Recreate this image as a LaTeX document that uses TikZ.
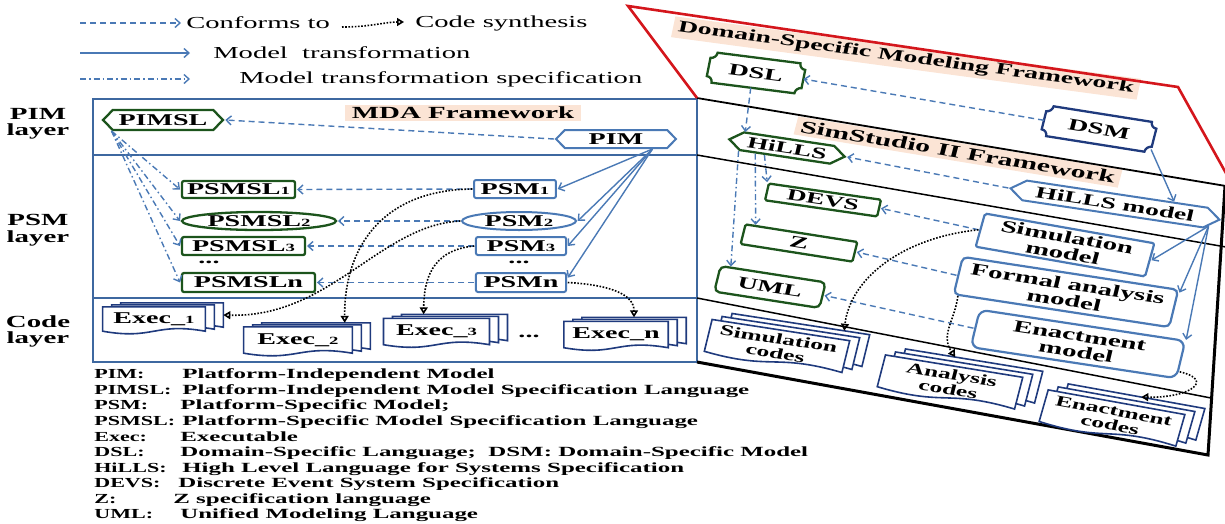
\documentclass[tikz,border=0pt]{standalone}
\usepackage{fontspec}
\setmainfont{Liberation Serif}
\usetikzlibrary{arrows.meta,shapes.symbols,shapes.geometric,calc}
\pgfdeclarelayer{bg}
\pgfsetlayers{bg,main}
\definecolor{lblue}{RGB}{74,121,181}
\definecolor{fblue}{RGB}{62,104,160}
\definecolor{dgreen}{RGB}{28,84,28}
\definecolor{navy}{RGB}{31,58,125}
\definecolor{peach}{RGB}{251,228,213}
\definecolor{fred}{RGB}{212,22,28}
\newcommand\smd[1]{{\fontsize{11}{11}\selectfont #1}}
\newcommand\docpath[1]{%
  \draw[docline] (#1.north west) -- (#1.north east) -- (#1.south east)
    .. controls ($(#1.south)!9pt!-90:(#1.south west)$) and ($(#1.south)!9pt!90:(#1.south west)$) .. (#1.south west) -- cycle;}
\newcommand\docstack[1]{\docpath{#1-b2}\docpath{#1-b1}\docpath{#1}}
\newcommand\ticket[2]{%
  \path ($(#1.north west)!6pt!(#1.north east)$) coordinate (#1-1)
        ($(#1.north east)!6pt!(#1.north west)$) coordinate (#1-2)
        ($(#1.north east)!6pt!(#1.south east)$) coordinate (#1-3)
        ($(#1.south east)!6pt!(#1.north east)$) coordinate (#1-4)
        ($(#1.south east)!6pt!(#1.south west)$) coordinate (#1-5)
        ($(#1.south west)!6pt!(#1.south east)$) coordinate (#1-6)
        ($(#1.south west)!6pt!(#1.north west)$) coordinate (#1-7)
        ($(#1.north west)!6pt!(#1.south west)$) coordinate (#1-8);
  \draw[#2] (#1-1) -- (#1-2)
    .. controls ($(#1-2)+0.55*(#1-3)-0.55*(#1.north east)$) and ($(#1-3)+0.55*(#1-2)-0.55*(#1.north east)$) .. (#1-3) -- (#1-4)
    .. controls ($(#1-4)+0.55*(#1-5)-0.55*(#1.south east)$) and ($(#1-5)+0.55*(#1-4)-0.55*(#1.south east)$) .. (#1-5) -- (#1-6)
    .. controls ($(#1-6)+0.55*(#1-7)-0.55*(#1.south west)$) and ($(#1-7)+0.55*(#1-6)-0.55*(#1.south west)$) .. (#1-7) -- (#1-8)
    .. controls ($(#1-8)+0.55*(#1-1)-0.55*(#1.north west)$) and ($(#1-1)+0.55*(#1-8)-0.55*(#1.north west)$) .. (#1-1) -- cycle;}
\tikzset{
  lt/.style={xscale=1.7, inner sep=0pt, font=\bfseries\fontsize{16.5}{16.5}\selectfont},
  ltr/.style={xscale=1.7, inner sep=0pt, font=\fontsize{16.8}{17}\selectfont},
  lgl/.style={xscale=1.6, inner sep=0pt, font=\bfseries\fontsize{13.8}{14}\selectfont},
  lgd/.style={xscale=1.78, inner sep=0pt, font=\bfseries\fontsize{14}{14}\selectfont},
  rt/.style={xscale=1.26, rotate=-#1, xscale=1.35, inner sep=0pt, font=\bfseries\fontsize{16.5}{16}\selectfont},
  rt/.default=11,
  gb/.style={draw=dgreen, line width=2.3pt},
  bb/.style={draw=lblue, line width=2pt},
  hex/.style={signal, signal to=west and east, signal pointer angle=#1},
  hex/.default=110,
  dotsn/.style={lt, text height=3pt, text depth=0pt},
  docline/.style={draw=navy, fill=white, line width=1.6pt},
  conf/.style={draw=lblue, line width=1.4pt, dash pattern=on 6pt off 4pt, -{Straight Barb[length=5pt,width=9pt]}},
  trans/.style={draw=lblue, line width=1.4pt, -{Straight Barb[length=5pt,width=9pt]}},
  spec/.style={draw=lblue, line width=1.4pt, dash pattern=on 6pt off 3pt on 1.5pt off 3pt, -{Straight Barb[length=5pt,width=9pt]}},
  synth/.style={draw=black, line width=1.6pt, dash pattern=on 1.6pt off 1.6pt, -{Triangle[open,length=7pt,width=8pt]}},
}
\begin{document}
\begin{tikzpicture}[x=1pt,y=-1pt]
\useasboundingbox (0,0) rectangle (1225,523);
% ---------------- background: labels and frames
\begin{pgfonlayer}{bg}
\node[lt, fill=peach, inner xsep=4pt, inner ysep=2.5pt, font=\bfseries\fontsize{17}{17}\selectfont] (mdalbl) at (463,113) {MDA Framework};
\node[rt=9.6, fill=peach, inner xsep=3pt, inner ysep=3pt, font=\bfseries\fontsize{16.3}{16}\selectfont] (dsmflbl) at (906,58) {Domain-Specific Modeling Framework};
\node[rt=11.7, fill=peach, inner xsep=3pt, inner ysep=3pt, font=\bfseries\fontsize{17.5}{17}\selectfont] (simlbl) at (958,152) {SimStudio II Framework};
\draw[fblue, line width=2.6pt] (93,99) rectangle (697,362);
\draw[fblue, line width=1.2pt] (93,155) -- (697,155) (93,298) -- (697,298);
\draw[line width=1.8pt] (697,98) -- (1226,186);
\draw[line width=1.5pt] (697,155) -- (1226,247);
\draw[line width=1.5pt] (697,298) -- (1211,398);
\draw[line width=3pt] (697,362) -- (1208,455) -- (1225,186);
\draw[fred, line width=2.6pt] (697,98) -- (628,6) -- (1178,87) -- (1232,184);
\end{pgfonlayer}
% ---------------- top legend
\coordinate (c1a) at (80,23); \coordinate (c1b) at (181,23);
\node[ltr, anchor=west] (tconf) at (186,23) {Conforms to};
\coordinate (c2a) at (342,27); \coordinate (c2b) at (404,22);
\node[ltr, anchor=west] (tsyn) at (415,23) {Code synthesis};
\coordinate (c3a) at (80,53); \coordinate (c3b) at (190,53);
\node[ltr, anchor=west] (ttr) at (213,53) {Model\ \ transformation};
\coordinate (c4a) at (80,79); \coordinate (c4b) at (190,79);
\node[ltr, anchor=west] (tspec) at (239,79) {Model transformation specification};
\draw[conf] (c1a) -- (c1b);
\draw[synth] (c2a) .. controls (370,27) and (385,22) .. (c2b);
\draw[trans] (c3a) -- (c3b);
\draw[spec] (c4a) -- (c4b);
% ---------------- layer labels
\node[lt, align=center, font=\bfseries\fontsize{17}{16.5}\selectfont] (lpim) at (38,124) {PIM\\layer};
\node[lt, align=center, font=\bfseries\fontsize{17}{16.5}\selectfont] (lpsm) at (38,230) {PSM\\layer};
\node[lt, align=center, font=\bfseries\fontsize{17}{16}\selectfont] (lcode) at (38,331) {Code\\layer};
% ---------------- MDA nodes
\node[lt, hex=120, gb, fill=white, minimum width=70.6, minimum height=20] (pimsl) at (163,120) {PIMSL};
\node[lt, hex=120, bb, fill=white, minimum width=70.6, minimum height=18] (pim) at (616,139) {PIM};
\node[lt, gb, rounded corners=2pt, minimum width=66.5, minimum height=17] (psmsl1) at (238.5,189.5) {PSMSL\smd{1}};
\node[lt, gb, ellipse, minimum width=90.6, minimum height=18] (psmsl2) at (259,221) {PSMSL\smd{2}};
\node[lt, gb, rounded corners=2pt, minimum width=72.4, minimum height=18] (psmsl3) at (243.5,246) {PSMSL\smd{3}};
\node[dotsn] (dotsl) at (209,262) {...};
\node[lt, gb, rounded corners=2pt, minimum width=78.2, minimum height=19] (psmsln) at (248.5,282.5) {PSMSLn};
\node[lt, bb, rounded corners=2pt, minimum width=48.2, minimum height=18] (psm1) at (515,189) {PSM\smd{1}};
\node[lt, bb, ellipse, minimum width=67, minimum height=18] (psm2) at (519,221) {PSM\smd{2}};
\node[lt, bb, rounded corners=2pt, minimum width=53, minimum height=18] (psm3) at (521,246) {PSM\smd{3}};
\node[dotsn] (dotsr) at (519,262) {...};
\node[lt, bb, rounded corners=2pt, minimum width=53, minimum height=19] (psmn) at (521,282.5) {PSMn};
% exec stacks
\node[lt, minimum width=60, minimum height=24] (ex1-b2) at (172,315) {};
\node[lt, minimum width=60, minimum height=24] (ex1-b1) at (163,317) {};
\node[lt, minimum width=60, minimum height=24] (ex1) at (154,319) {Exec\_\smd{1}};
\node[lt, minimum width=63.5, minimum height=26] (ex2-b2) at (316,336) {};
\node[lt, minimum width=63.5, minimum height=26] (ex2-b1) at (307,338) {};
\node[lt, minimum width=63.5, minimum height=26] (ex2) at (298,340) {Exec\_\smd{2}};
\node[lt, minimum width=62, minimum height=26] (ex3-b2) at (454.5,327.5) {};
\node[lt, minimum width=62, minimum height=26] (ex3-b1) at (445.5,329.5) {};
\node[lt, minimum width=62, minimum height=26] (ex3) at (436.5,331.5) {Exec\_\smd{3}};
\node[dotsn] (dotse) at (529,336) {...};
\node[lt, minimum width=61, minimum height=26] (exn-b2) at (634,330.5) {};
\node[lt, minimum width=61, minimum height=26] (exn-b1) at (625,332.5) {};
\node[lt, minimum width=61, minimum height=26] (exn) at (616,334.5) {Exec\_n};
% ---------------- right nodes
\node[rt=9.1, minimum width=56, minimum height=30] (dsl) at (756,73) {DSL};
\node[rt=11.3, minimum width=65.6, minimum height=30] (dsm) at (1099,129) {DSM};
\node[rt=10.7, hex=100, gb, fill=white, minimum width=69, minimum height=18, font=\bfseries\fontsize{16}{16}\selectfont] (hills) at (787,148) {HiLLS};
\node[rt=10.7, hex=100, bb, fill=white, minimum width=125, minimum height=20, font=\bfseries\fontsize{16.3}{16}\selectfont] (hmod) at (1115,204) {HiLLS model};
\node[rt=10.3, gb, fill=white, rounded corners=1.5pt, minimum width=67, minimum height=17, font=\bfseries\fontsize{16}{16}\selectfont] (devs) at (823,200) {DEVS};
\node[rt=11.2, gb, fill=white, rounded corners=1.5pt, minimum width=67, minimum height=20] (z) at (799,243) {Z};
\node[rt=11.1, gb, fill=white, rounded corners=5pt, minimum width=63, minimum height=26] (uml) at (770,287) {UML};
\node[rt=12.5, bb, line width=2.2pt, fill=white, rounded corners=2pt, minimum width=102, minimum height=34, align=center, font=\bfseries\fontsize{17}{16.5}\selectfont] (simm) at (1065,245) {Simulation\\model};
\node[rt=10.9, bb, line width=2.2pt, fill=white, rounded corners=5pt, minimum width=129, minimum height=38, align=center, font=\bfseries\fontsize{17}{16.5}\selectfont] (fam) at (1066,292) {Formal analysis\\model};
\node[rt=10.8, bb, line width=2.2pt, fill=white, rounded corners=8pt, minimum width=123, minimum height=38, align=center, font=\bfseries\fontsize{17}{16.5}\selectfont] (enm) at (1078,344) {Enactment\\model};
% code stacks
\node[rt=11, minimum width=82, minimum height=32] (simc-b2) at (797,340) {};
\node[rt=11, minimum width=82, minimum height=32] (simc-b1) at (787,343) {};
\node[rt=11, minimum width=82, minimum height=32, align=center, font=\bfseries\fontsize{15}{14.5}\selectfont] (simc) at (777,346) {Simulation\\codes};
\node[rt=11.6, minimum width=82, minimum height=32] (anc-b2) at (970,376) {};
\node[rt=11.6, minimum width=82, minimum height=32] (anc-b1) at (960,379) {};
\node[rt=11.6, minimum width=82, minimum height=32, align=center, font=\bfseries\fontsize{15}{14.5}\selectfont] (anc) at (950,382) {Analysis\\codes};
\node[rt=12.8, minimum width=82, minimum height=32] (enc-b2) at (1132,412) {};
\node[rt=12.8, minimum width=82, minimum height=32] (enc-b1) at (1122,415) {};
\node[rt=12.8, minimum width=82, minimum height=32, align=center, font=\bfseries\fontsize{15}{14.5}\selectfont] (enc) at (1112,418) {Enactment\\codes};
% ---------------- shapes behind text
\begin{pgfonlayer}{bg}
\docstack{ex1}\docstack{ex2}\docstack{ex3}\docstack{exn}
\docstack{simc}\docstack{anc}\docstack{enc}
\ticket{dsl}{draw=dgreen, line width=2.3pt, fill=white}
\ticket{dsm}{draw=navy, line width=2.3pt, fill=white}
\end{pgfonlayer}
% ---------------- MDA connectors
\draw[conf] (pim.180) -- (pimsl.0);
\draw[spec] (pimsl.200) -- (psmsl1.west);
\draw[spec] (pimsl.200) -- (psmsl2.west);
\draw[spec] (pimsl.200) -- (psmsl3.west);
\draw[spec] (pimsl.200) -- (psmsln.west);
\draw[trans] (pim.-25) -- (psm1.east);
\draw[trans] (pim.-25) -- (psm2.east);
\draw[trans] (pim.-25) -- (psm3.east);
\draw[trans] (pim.-25) -- (psmn.10);
\draw[conf] (psm1.west) -- (psmsl1.east);
\draw[conf] (psm2.west) -- (psmsl2.east);
\draw[conf] (psm3.west) -- (psmsl3.east);
\draw[conf] (psmn.west) -- (psmsln.east);
\draw[synth] (psm1.west) .. controls (380,190) and (344,250) .. (ex2-b2.38);
\draw[synth] (psm2.west) .. controls (380,225) and (330,318) .. (ex1-b2.east);
\draw[synth] (psm3.west) .. controls (430,250) and (424,282) .. (ex3-b2.144);
\draw[synth] (psmn.east) .. controls (612,285) and (634,295) .. (exn-b2.north);
% ---------------- right connectors
\draw[conf] (dsm.west) -- (dsl.east);
\draw[conf] (dsl.265) -- (hills.160);
\draw[trans] (dsm.-20) -- (hmod.18);
\draw[conf] (hmod.180) -- (hills.0);
\draw[spec] (hills.220) -- (devs.north west);
\draw[spec] (hills.210) -- (z.158);
\draw[spec] (hills.200) -- (uml.151);
\draw[trans] (hmod.-8) -- (simm.east);
\draw[trans] (hmod.-8) -- (fam.14);
\draw[trans] (hmod.-8) -- (enm.18);
\draw[conf] (simm.west) -- (devs.east);
\draw[conf] (fam.west) -- (z.east);
\draw[conf] (enm.west) -- (uml.east);
\draw[synth] (simm.west) .. controls (900,238) and (850,280) .. (simc-b2.32);
\draw[synth] (fam.198) .. controls (955,320) and (940,335) .. (anc-b2.125);
\draw[synth] (enm.-11) .. controls (1215,380) and (1190,398) .. (enc-b2.80);
% ---------------- bottom legend
\node[lgl, anchor=base west] (k1) at (94,378) {PIM:};
\node[lgd, anchor=base west] (d1) at (182,378) {Platform-Independent Model};
\node[lgl, anchor=base west] (k2) at (94,394) {PIMSL:};
\node[lgd, anchor=base west] (d2) at (182,394) {Platform-Independent Model Specification Language};
\node[lgl, anchor=base west] (k3) at (94,409.5) {PSM:};
\node[lgd, anchor=base west] (d3) at (180,409.5) {Platform-Specific Model;};
\node[lgl, anchor=base west] (k4) at (94,425) {PSMSL:};
\node[lgd, anchor=base west] (d4) at (182,425) {Platform-Specific Model Specification Language};
\node[lgl, anchor=base west] (k5) at (94,441) {Exec:};
\node[lgd, anchor=base west] (d5) at (180,441) {Executable};
\node[lgl, anchor=base west] (k6) at (94,456.5) {DSL:};
\node[lgd, anchor=base west] (d6) at (180,456.5) {Domain-Specific Language;\ \ DSM:\ Domain-Specific Model};
\node[lgl, anchor=base west] (k7) at (94,472) {HiLLS:};
\node[lgd, anchor=base west] (d7) at (182,472) {High Level Language for Systems Specification};
\node[lgl, anchor=base west] (k8) at (94,487.5) {DEVS:};
\node[lgd, anchor=base west] (d8) at (178,487.5) {Discrete Event System Specification};
\node[lgl, anchor=base west] (k9) at (94,503) {Z:};
\node[lgd, anchor=base west] (d9) at (173,503) {Z specification language};
\node[lgl, anchor=base west] (k10) at (94,518.5) {UML:};
\node[lgd, anchor=base west] (d10) at (180,518.5) {Unified Modeling Language};
\end{tikzpicture}
\end{document}
